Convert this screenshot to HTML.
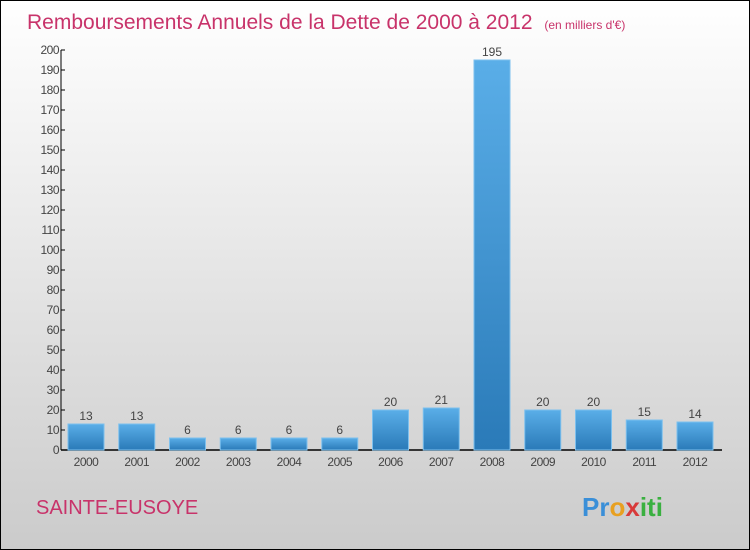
<!DOCTYPE html>
<html><head><meta charset="utf-8"><style>
body{margin:0}
svg{display:block;font-family:"Liberation Sans",sans-serif}
</style></head><body>
<svg width="750" height="550" viewBox="0 0 750 550">
<defs>
<linearGradient id="bg" x1="0" y1="0" x2="0" y2="1"><stop offset="0" stop-color="#ffffff"/><stop offset="1" stop-color="#cbcbcb"/></linearGradient>
<linearGradient id="bar" x1="0" y1="0" x2="0" y2="1"><stop offset="0" stop-color="#5aaee8"/><stop offset="1" stop-color="#2a7ab8"/></linearGradient>
</defs>
<rect x="0.5" y="0.5" width="749" height="549" fill="url(#bg)" stroke="#000"/>
<text x="27" y="29" font-size="21" fill="#c8336a">Remboursements Annuels de la Dette de 2000 à 2012 <tspan font-size="12" dx="6">(en milliers d'€)</tspan></text>
<text x="36" y="514" font-size="20" fill="#c8336a">SAINTE-EUSOYE</text>
<text x="582" y="516" font-size="26" font-weight="bold"><tspan fill="#3a8fd8">Pr</tspan><tspan fill="#e8a020">o</tspan><tspan fill="#d83a3a">x</tspan><tspan fill="#3ab040">iti</tspan></text>
<g id="axes"></g>
<g id="bars"></g>
</svg>
<script>
const categories=["2000","2001","2002","2003","2004","2005","2006","2007","2008","2009","2010","2011","2012"];
const values=[13,13,6,6,6,6,20,21,195,20,20,15,14];
const yTicks=[0,10,20,30,40,50,60,70,80,90,100,110,120,130,140,150,160,170,180,190,200];
const NS="http://www.w3.org/2000/svg";
const y0=450,yTop=50,yMax=200,x0=61,xStart=86,step=50.75,bw=36;
const yS=v=>y0-(v/yMax)*(y0-yTop);
const xS=i=>xStart+i*step;
function mk(t,a,p){const e=document.createElementNS(NS,t);for(const k in a)e.setAttribute(k,a[k]);p.appendChild(e);return e;}
const ax=document.getElementById('axes'),bg=document.getElementById('bars');
let l=mk('line',{x1:x0,y1:yTop,x2:x0,y2:y0,stroke:'#000','stroke-width':1},ax);


l=mk('line',{x1:x0,y1:y0,x2:722,y2:y0,stroke:'#000','stroke-width':1.5},ax);


yTicks.forEach(v=>{
  const y=yS(v);
  const t=mk('line',{x1:x0,y1:y,x2:x0+4,y2:y,stroke:'#000'},ax);
  
  
  const tx=mk('text',{x:x0-2,y:y+4,'font-size':12,'text-anchor':'end',fill:'#444','letter-spacing':'-0.5'},ax);
  tx.textContent=v;
  
  
});
categories.forEach((c,i)=>{
  const x=xS(i),v=values[i];
  const r=mk('rect',{x:x-bw/2,y:yS(v),width:bw,height:y0-yS(v),fill:'url(#bar)',stroke:'#7cc0ee','stroke-width':1},bg);
  
  
  const vt=mk('text',{x:x,y:yS(v)-4,'font-size':12,'text-anchor':'middle',fill:'#444'},bg);
  vt.textContent=v;
  
  
  const ct=mk('text',{x:x,y:y0+16,'font-size':12,'text-anchor':'middle',fill:'#444','letter-spacing':'-0.5'},bg);
  ct.textContent=c;
  
  
});
</script>
</body></html>
